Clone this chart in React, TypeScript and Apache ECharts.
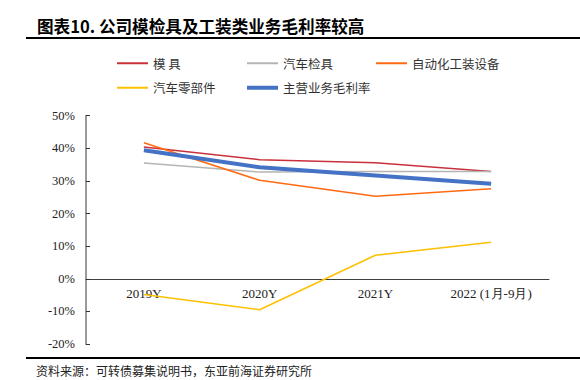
import React, { useEffect, useRef } from "react";
import * as echarts from "echarts";

const categories = ["2019Y", "2020Y", "2021Y", "2022 (1月-9月)"];
const seriesNames = ["模具", "汽车检具", "自动化工装设备", "汽车零部件", "主营业务毛利率"];
const moju = [40.4, 36.5, 35.6, 32.9];
const jianju = [35.5, 32.7, 32.9, 32.9];
const zidonghua = [41.7, 30.2, 25.3, 27.6];
const lingbujian = [-4.8, -9.5, 7.2, 11.2];
const zhuying = [39.4, 34.2, 31.7, 29.1];
const yTicks = [-20, -10, 0, 10, 20, 30, 40, 50];

const colors = ["#C8303A", "#B4B4B4", "#FF6A12", "#FFC000", "#4472C4"];
const widths = [1.5, 1.5, 1.5, 1.5, 4];
const values = [moju, jianju, zidonghua, lingbujian, zhuying];
const legendLabels = ["模 具", "汽车检具", "自动化工装设备", "汽车零部件", "主营业务毛利率"];
const legendPos = [
  [112, 52],
  [242, 52],
  [371, 52],
  [112, 76.5],
  [242, 76.5],
];

export default function App() {
  const ref = useRef<HTMLDivElement>(null);
  useEffect(() => {
    if (!ref.current) return;
    const chart = echarts.init(ref.current, null, { renderer: "svg" });
    const cjk = "'Noto Sans CJK SC', sans-serif";
    const serif = "'Liberation Serif', 'Times New Roman', serif";
    chart.setOption({
      animation: false,
      backgroundColor: "#ffffff",
      legend: seriesNames.map((n, i) => ({
        data: [{ name: n, icon: "rect", itemStyle: { color: colors[i] } }],
        left: legendPos[i][0],
        top: legendPos[i][1],
        itemWidth: 31,
        itemHeight: i === 4 ? 4 : 2,
        itemGap: 0,
        formatter: () => legendLabels[i],
        textStyle: { fontFamily: cjk, fontSize: 12.5, color: "#333333" },
        selectedMode: false,
      })),
      grid: { left: 86, right: 31, top: 115.7, bottom: 36, containLabel: false },
      xAxis: {
        type: "category",
        data: categories,
        boundaryGap: true,
        offset: -65.23,
        axisLine: { onZero: false, lineStyle: { color: "#404040", width: 1 } },
        axisTick: { show: false },
        axisLabel: { fontFamily: serif, fontSize: 13, color: "#222222", margin: 8 },
      },
      yAxis: {
        type: "value",
        min: -20,
        max: 50,
        interval: 10,
        splitLine: { show: false },
        axisLine: { show: true, onZero: false, lineStyle: { color: "#9A9A9A", width: 2 } },
        axisTick: { show: true, inside: true, length: 4, lineStyle: { color: "#333333", width: 1 } },
        axisLabel: {
          fontFamily: serif,
          fontSize: 12.5,
          color: "#222222",
          margin: 11,
          formatter: (v: number) => (yTicks.includes(v) ? v + "%" : ""),
        },
      },
      series: seriesNames.map((n, i) => ({
        name: n,
        type: "line",
        data: values[i],
        symbol: "none",
        z: i === 4 ? 3 : 2,
        lineStyle: { color: colors[i], width: widths[i] },
        itemStyle: { color: colors[i] },
      })),
      graphic: [
        {
          type: "text",
          left: 37,
          top: 17.5,
          style: {
            text: "图表10. 公司模检具及工装类业务毛利率较高",
            fontFamily: cjk,
            fontSize: 16.6,
            fontWeight: "bold",
            fill: "#000000",
          },
        },
        {
          type: "line",
          shape: { x1: 26, y1: 38, x2: 580, y2: 38 },
          style: { stroke: "#000000", lineWidth: 2 },
        },
        {
          type: "line",
          shape: { x1: 26, y1: 358, x2: 580, y2: 358 },
          style: { stroke: "#000000", lineWidth: 2 },
        },
        {
          type: "text",
          left: 36,
          top: 364,
          style: {
            text: "资料来源：可转债募集说明书，东亚前海证券研究所",
            fontFamily: cjk,
            fontSize: 12,
            fill: "#222222",
          },
        },
      ],
    });
    return () => chart.dispose();
  }, []);
  return <div ref={ref} style={{ width: 580, height: 380, position: "fixed", left: 0, top: 0 }} />;
}
